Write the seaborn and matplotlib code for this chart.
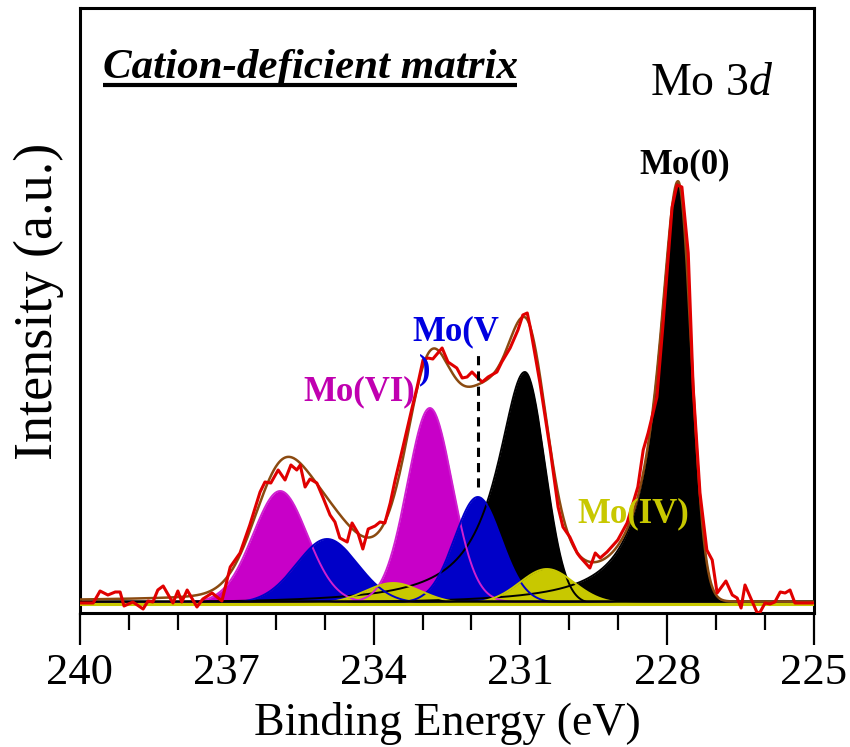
import numpy as np
import pandas as pd
import matplotlib
matplotlib.use("Agg")
import matplotlib.pyplot as plt
import seaborn as sns

be_raw = [240.00, 239.73, 239.59, 239.43, 239.28, 239.18, 239.10, 238.92, 238.71, 238.61,
          238.51, 238.41, 238.30, 238.10, 238.00, 237.92, 237.81, 237.61, 237.49, 237.30,
          237.10, 236.93, 236.73, 236.53, 236.32, 236.22, 236.10, 235.95, 235.81, 235.69,
          235.57, 235.50, 235.40, 235.30, 235.16, 235.03, 234.89, 234.79, 234.69, 234.54,
          234.44, 234.32, 234.22, 234.11, 233.97, 233.87, 233.77, 233.66, 233.56, 233.40,
          233.21, 233.11, 232.99, 232.89, 232.79, 232.60, 232.48, 232.30, 232.19, 232.09,
          231.99, 231.89, 231.78, 231.66, 231.48, 231.38, 231.21, 231.05, 230.95, 230.86,
          230.80, 230.60, 230.39, 230.23, 230.13, 229.99, 229.84, 229.78, 229.58, 229.47,
          229.37, 229.23, 229.01, 228.82, 228.60, 228.49, 228.39, 228.21, 228.09, 227.90,
          227.80, 227.70, 227.57, 227.47, 227.33, 227.19, 227.08, 226.98, 226.80, 226.67,
          226.57, 226.49, 226.41, 226.16, 226.10, 226.00, 225.90, 225.80, 225.69, 225.59,
          225.49, 225.39, 225.02]
int_raw = [1, 1, 13, 9, 12, 12, -2, 2, -5, 3,
           2, 14, 18, 1, 13, 2, 14, -3, 5, 11,
           3, 37, 51, 79, 112, 122, 121, 134, 124, 139,
           134, 139, 117, 125, 121, 106, 89, 82, 66, 62,
           81, 71, 55, 75, 78, 82, 81, 101, 124, 157,
           197, 217, 244, 246, 245, 256, 242, 236, 226, 227,
           232, 227, 222, 227, 232, 242, 256, 274, 289, 291,
           277, 221, 154, 97, 77, 67, 51, 47, 36, 51,
           46, 52, 64, 81, 117, 154, 171, 207, 277, 397,
           419, 417, 351, 217, 111, 54, 44, 11, 23, 9,
           6, -4, 19, -9, -8, 1, 0, 2, 12, 11,
           14, 1, 1]

# fitted components (centre eV, height, widths eV)
mo0_center = [227.78, 230.91]
mo0_height = [420, 232]
mo0_sigma_low = [0.27, 0.41]
mo0_hwhm_high = [0.47, 0.68]

mo4_center = [230.46, 233.60]
mo4_height = [35, 21]
mo4_fwhm = [1.33, 1.37]

mo5_center = [231.87, 234.95]
mo5_height = [107, 65]
mo5_fwhm = [1.14, 1.50]

mo6_center = [232.85, 235.91]
mo6_height = [196, 113]
mo6_fwhm = [1.10, 1.33]

background = 2
lorentz_frac = 0.1

c_black = "#000000"
c_yellow = "#C8C800"
c_blue = "#0000C8"
c_magenta = "#C800C8"
c_red = "#E00000"
c_brown = "#8B4A10"


def metal_peak(e, c, h, s_low, w_high):
    # tail towards higher binding energy
    return np.where(e >= c, h / (1 + ((e - c) / w_high) ** 2),
                    h * np.exp(-(e - c) ** 2 / (2 * s_low ** 2)))


def oxide_peak(e, c, h, fwhm):
    x = (e - c) / fwhm
    return h * ((1 - lorentz_frac) * np.exp(-4 * np.log(2) * x ** 2)
                + lorentz_frac / (1 + 4 * x ** 2))


energy = np.linspace(225, 240, 1501)
comps = {"mo0": [], "mo4": [], "mo5": [], "mo6": []}
for c, h, s, w in zip(mo0_center, mo0_height, mo0_sigma_low, mo0_hwhm_high):
    comps["mo0"].append(metal_peak(energy, c, h, s, w))
for c, h, f in zip(mo4_center, mo4_height, mo4_fwhm):
    comps["mo4"].append(oxide_peak(energy, c, h, f))
for c, h, f in zip(mo5_center, mo5_height, mo5_fwhm):
    comps["mo5"].append(oxide_peak(energy, c, h, f))
for c, h, f in zip(mo6_center, mo6_height, mo6_fwhm):
    comps["mo6"].append(oxide_peak(energy, c, h, f))

envelope = background + sum(sum(v) for v in comps.values())

raw = pd.DataFrame({"be": be_raw, "intensity": int_raw})
fit = pd.DataFrame({"be": energy, "intensity": envelope})

sns.set_style("ticks", rc={"axes.edgecolor": "black", "text.color": "black",
                           "axes.labelcolor": "black", "xtick.color": "black",
                           "ytick.color": "black"})
plt.rcParams["font.family"] = ["Liberation Serif", "DejaVu Serif"]
plt.rcParams["mathtext.fontset"] = "custom"
plt.rcParams["mathtext.rm"] = "Liberation Serif"
plt.rcParams["mathtext.it"] = "Liberation Serif:italic"

fig = plt.figure(figsize=(8.5, 7.47), dpi=100)
ax = fig.add_axes([80 / 850, 1 - 613 / 747, 734 / 850, 605 / 747])

# filled components
fill_order = [("mo0", c_black), ("mo6", c_magenta), ("mo5", c_blue), ("mo4", c_yellow)]
for z, (key, col) in enumerate(fill_order):
    for y in comps[key]:
        ax.fill_between(energy, 0, y, color=col, lw=0, zorder=1 + z)
for key, col in [("mo0", c_black), ("mo6", "#D020D0"), ("mo5", c_blue), ("mo4", c_yellow)]:
    for y in comps[key]:
        ax.plot(energy, y, color=col, lw=1.4, zorder=6)

ax.axhline(background + 1, color=c_black, lw=1.8, zorder=6)
ax.axhline(0, color=c_yellow, lw=2.2, zorder=6)

sns.lineplot(data=fit, x="be", y="intensity", ax=ax, color=c_brown, lw=1.8, zorder=7)
sns.lineplot(data=raw, x="be", y="intensity", ax=ax, color=c_red, lw=2.2, zorder=8)

ax.plot([231.87, 231.87], [117, 249], color="black", ls=(0, (3, 2)), lw=2.2, zorder=9)

ax.set_xlim(240, 225)
ax.set_ylim(-9, 596)
ax.set_xticks([240, 237, 234, 231, 228, 225])
ax.set_xticks(np.arange(225, 241, 1), minor=True)
ax.set_yticks([])
ax.tick_params(axis="x", which="major", direction="out", length=23, width=1.6,
               labelsize=32, pad=6)
ax.tick_params(axis="x", which="minor", direction="out", length=12, width=1.6)
for sp in ax.spines.values():
    sp.set_linewidth(2.2)
    sp.set_visible(True)

ax.set_xlabel("Binding Energy (eV)", fontsize=33, labelpad=6)
ax.set_ylabel("Intensity (a.u.)", fontsize=39)
ax.yaxis.set_label_coords(-0.022, 0.515)

# annotations
ax.text(0.031, 0.884, "Cation-deficient matrix", transform=ax.transAxes,
        fontsize=31, fontweight="bold", fontstyle="italic", va="baseline", ha="left")
ax.plot([0.031, 0.595], [0.873, 0.873], transform=ax.transAxes, color="black",
        lw=3, solid_capstyle="butt")
ax.text(0.777, 0.856, r"Mo $\mathit{3d}$", transform=ax.transAxes, fontsize=33,
        va="baseline", ha="left")
ax.text(227.64, 431, "Mo(0)", fontsize=25, fontweight="bold", color="black",
        ha="center", va="baseline", zorder=10)
ax.text(233.21, 264, "Mo(V", fontsize=25, fontweight="bold", color="#0000E0",
        ha="left", va="baseline", zorder=10)
ax.text(233.08, 226, ")", fontsize=25, fontweight="bold", color="#0000E0",
        ha="left", va="baseline", zorder=10)
ax.text(235.44, 204, "Mo(VI)", fontsize=25, fontweight="bold", color="#C000B0",
        ha="left", va="baseline", zorder=10)
ax.text(229.84, 82, "Mo(IV)", fontsize=25, fontweight="bold", color=c_yellow,
        ha="left", va="baseline", zorder=10)

fig.savefig("out.png", dpi=100)
